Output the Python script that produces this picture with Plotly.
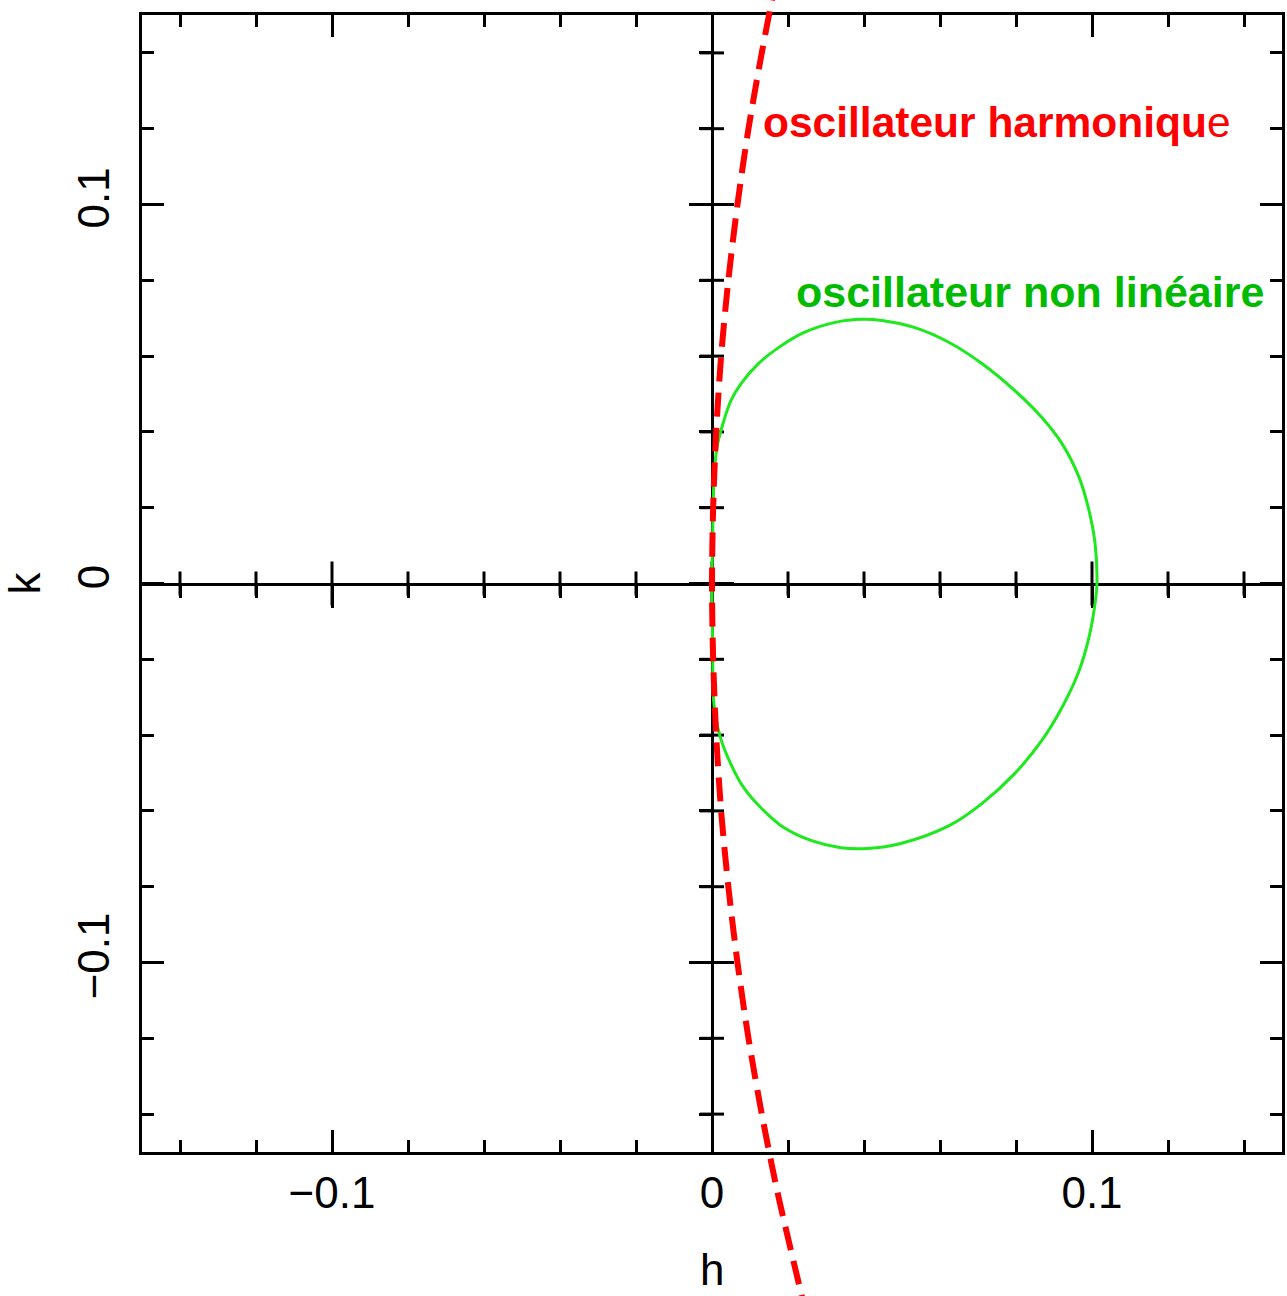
import plotly.graph_objects as go

# ---- data -------------------------------------------------------------
# harmonic oscillator curve (h as a function of k), dashed red
red_k = [0.160, 0.154, 0.14, 0.12, 0.10, 0.08, 0.06, 0.04, 0.02, 0.0,
         -0.02, -0.04, -0.06, -0.08, -0.10, -0.12, -0.14, -0.16, -0.19]
red_h = [0.0171, 0.0158, 0.0131, 0.0096, 0.0067, 0.0043, 0.0024, 0.0011, 0.0003, 0.0,
         0.0003, 0.0011, 0.0024, 0.0043, 0.0067, 0.0096, 0.0131, 0.0171, 0.0241]

# non-linear oscillator closed orbit, green (counter-clockwise from the right tip)
green_h = [0.1013, 0.1008, 0.0992, 0.0966, 0.0921, 0.0868, 0.0797, 0.0711, 0.0624,
           0.0534, 0.0447, 0.0395, 0.0324, 0.0237, 0.0176, 0.0122, 0.0077, 0.0050,
           0.0029, 0.0015, 0.0008, 0.0004, 0.0002, 0.0,
           0.0002, 0.0005, 0.0022, 0.0049, 0.0083, 0.0128, 0.0189, 0.0260, 0.0339,
           0.0410, 0.0497, 0.0624, 0.0711, 0.0797, 0.0868, 0.0921, 0.0966, 0.0992,
           0.1008, 0.1013]
green_k = [0.0, 0.0106, 0.0193, 0.0280, 0.0369, 0.0438, 0.0509, 0.0580, 0.0636,
           0.0675, 0.0694, 0.0697, 0.0689, 0.0660, 0.0623, 0.0580, 0.0528, 0.0483,
           0.0422, 0.0369, 0.0317, 0.0245, 0.0140, 0.0,
           -0.0177, -0.0317, -0.0406, -0.0475, -0.0538, -0.0591, -0.0644, -0.0678, -0.0697,
           -0.0699, -0.0686, -0.0639, -0.0580, -0.0501, -0.0414, -0.0327, -0.0230, -0.0142,
           -0.0053, 0.0]

major_ticks = [-0.1, 0.0, 0.1]
major_labels = ["\u22120.1", "0", "0.1"]
minor_ticks = [-0.14, -0.12, -0.08, -0.06, -0.04, -0.02,
               0.02, 0.04, 0.06, 0.08, 0.12, 0.14]
axis_range = [-0.15, 0.15]

label_harm = "<b>oscillateur harmoniqu</b>e"
label_nonlin = "<b>oscillateur non linéaire</b>"
x_title = "h"
y_title = "k"

# ---- geometry ---------------------------------------------------------
W, H = 1287, 1296
FL, FR, FT, FB = 142, 1282, 15, 1152          # frame edges in px
x_dom = [FL / W, FR / W]
y_dom = [1 - FB / H, 1 - FT / H]
sx = (axis_range[1] - axis_range[0]) / (FR - FL)
sy = (axis_range[1] - axis_range[0]) / (FB - FT)
# full-page axes sharing the same data scale, so curves may run past the frame
x_full = [axis_range[0] - FL * sx, axis_range[1] + (W - FR) * sx]
y_full = [axis_range[0] - (H - FB) * sy, axis_range[1] + FT * sy]
x_zero = x_dom[0] + (0 - axis_range[0]) / (axis_range[1] - axis_range[0]) * (x_dom[1] - x_dom[0])
y_zero = y_dom[0] + (0 - axis_range[0]) / (axis_range[1] - axis_range[0]) * (y_dom[1] - y_dom[0])

FONT = "Liberation Sans, Arial, Helvetica, sans-serif"
LW = 3
MAJ, MIN = 22, 12

fig = go.Figure()

# placeholders so every axis pair is instantiated
for xa, ya in [("x", "y"), ("x3", "y"), ("x", "y3")]:
    fig.add_trace(go.Scatter(x=[None], y=[None], xaxis=xa, yaxis=ya, mode="markers",
                             hoverinfo="skip", showlegend=False))

fig.add_trace(go.Scatter(x=green_h, y=green_k, xaxis="x2", yaxis="y2", mode="lines",
                         line=dict(color="#1ee81e", width=3, shape="spline", smoothing=1.0),
                         hoverinfo="skip", showlegend=False))
fig.add_trace(go.Scatter(x=red_h, y=red_k, xaxis="x2", yaxis="y2", mode="lines",
                         line=dict(color="#ff0000", width=6, dash="24px,11px",
                                   shape="spline", smoothing=0.8),
                         hoverinfo="skip", showlegend=False))


def frame_axis(dom, anchor, title, standoff, **kw):
    return dict(domain=dom, range=axis_range, anchor=anchor, showline=True, linewidth=LW,
                linecolor="black", mirror="ticks", ticks="inside", ticklen=MAJ,
                tickwidth=LW, tickcolor="black", tickmode="array", tickvals=major_ticks,
                ticktext=major_labels, showgrid=False, zeroline=False, automargin=False,
                minor=dict(tickmode="array", tickvals=minor_ticks, ticks="inside",
                           ticklen=MIN, tickwidth=LW, tickcolor="black", showgrid=False),
                tickfont=dict(family=FONT, size=44, color="black"),
                title=dict(text=title, standoff=standoff,
                           font=dict(family=FONT, size=44, color="black")),
                **kw)


def zero_axis(over, pos, side):
    # axis line through the origin
    return dict(overlaying=over, anchor="free", position=pos, side=side, range=axis_range,
                showline=True, linewidth=LW, linecolor="black", ticks="outside",
                ticklen=MAJ, tickwidth=LW, tickcolor="black", tickmode="array",
                tickvals=major_ticks, showticklabels=False, showgrid=False, zeroline=False,
                automargin=False,
                minor=dict(tickmode="array", tickvals=minor_ticks, ticks="outside",
                           ticklen=MIN, tickwidth=LW, tickcolor="black", showgrid=False))


# ticks crossing the two axis lines through the origin (drawn under the curves)
cross_ticks = []
for vals, length in [(major_ticks, MAJ), (minor_ticks, MIN)]:
    for v in vals:
        cross_ticks.append(dict(type="line", layer="below", xref="x2", yref="y2",
                                x0=v, x1=v, ysizemode="pixel", yanchor=0,
                                y0=-length, y1=length,
                                line=dict(color="black", width=LW)))
        cross_ticks.append(dict(type="line", layer="below", xref="x2", yref="y2",
                                y0=v, y1=v, xsizemode="pixel", xanchor=0,
                                x0=-length, x1=length,
                                line=dict(color="black", width=LW)))

fig.update_layout(
    width=W, height=H, autosize=False,
    margin=dict(l=0, r=0, t=0, b=0, pad=0),
    paper_bgcolor="white", plot_bgcolor="rgba(0,0,0,0)",
    showlegend=False,
    font=dict(family=FONT, color="black"),
    xaxis=frame_axis(x_dom, "y", "", 0, ticklabelstandoff=0),
    yaxis=frame_axis(y_dom, "x", y_title, 22, tickangle=-90, ticklabelstandoff=12),
    xaxis2=dict(domain=[0, 1], range=x_full, anchor="y2", visible=False),
    yaxis2=dict(domain=[0, 1], range=y_full, anchor="x2", visible=False),
    xaxis3=zero_axis("x", y_zero, "bottom"),
    yaxis3=zero_axis("y", x_zero, "left"),
    shapes=cross_ticks,
    annotations=[
        dict(text=label_harm, x=0.0128, y=0.1216, xref="x", yref="y",
             xanchor="left", yanchor="middle", showarrow=False,
             font=dict(family=FONT, size=42.5, color="#ff0000")),
        dict(text=label_nonlin, x=0.0216, y=0.0768, xref="x", yref="y",
             xanchor="left", yanchor="middle", showarrow=False,
             font=dict(family=FONT, size=43, color="#00bb00")),
        # horizontal-axis title, resting on the lower page edge
        dict(text=x_title, x=0.0, y=0.0, xref="x", yref="paper",
             xanchor="center", yanchor="bottom", showarrow=False,
             font=dict(family=FONT, size=44, color="black")),
    ],
)

fig.write_html("out.html")
